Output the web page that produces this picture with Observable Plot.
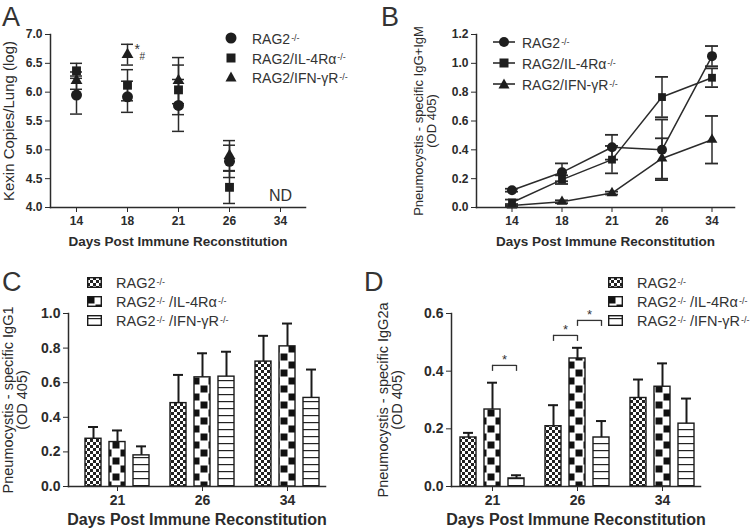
<!DOCTYPE html>
<html><head><meta charset="utf-8">
<script src="https://cdn.jsdelivr.net/npm/d3@7"></script>
<script src="https://cdn.jsdelivr.net/npm/@observablehq/plot@0.6"></script>
<style>
body{margin:0;background:#fff;font-family:"Liberation Sans",Arial,sans-serif;}
#fig{position:relative;width:750px;height:530px;overflow:hidden;color:#2b2b2b;background:#fff}
.panel{position:absolute;width:375px;height:265px}
.panel svg{overflow:visible}
.letter{position:absolute;font-size:27px;color:#333;line-height:1}
.leg{position:absolute;white-space:nowrap;display:flex;align-items:center;color:#333;line-height:1}
.leg sup{font-size:9px;position:relative;top:-1px;margin-left:1px}
svg g[aria-label="x-axis tick label"], svg g[aria-label="y-axis tick label"]{font-weight:bold}
svg g[aria-label="x-axis label"]{font-weight:bold}
.pa g[aria-label="x-axis label"], .pb g[aria-label="x-axis label"]{font-size:13.5px}
.pa g[aria-label="y-axis label"]{font-size:15px}
.pb g[aria-label="y-axis label"]{font-size:13px}
.pc g[aria-label="y-axis label"], .pd g[aria-label="y-axis label"]{font-size:14.5px}
.pc g[aria-label="x-axis label"], .pd g[aria-label="x-axis label"]{font-size:16px}
.pc g[aria-label="x-axis tick label"], .pd g[aria-label="x-axis tick label"],
.pc g[aria-label="y-axis tick label"], .pd g[aria-label="y-axis tick label"]{font-size:14px}
</style>
</head><body>
<svg width="0" height="0" style="position:absolute">
  <defs>
    <pattern id="pFine" patternUnits="userSpaceOnUse" width="6" height="6">
      <rect width="6" height="6" fill="#fff"/>
      <rect width="3" height="3" fill="#222"/>
      <rect x="3" y="3" width="3" height="3" fill="#222"/>
    </pattern>
    <pattern id="pBig" patternUnits="userSpaceOnUse" width="16" height="16">
      <rect width="16" height="16" fill="#fff"/>
      <rect x="0.5" y="0.5" width="7" height="7" fill="#111"/>
      <rect x="8.5" y="8.5" width="7" height="7" fill="#111"/>
    </pattern>
    <pattern id="pLines" patternUnits="userSpaceOnUse" width="8" height="7">
      <rect width="8" height="7" fill="#fff"/>
      <rect y="3" width="8" height="1.2" fill="#222"/>
    </pattern>
  </defs>
</svg>
<div id="fig"></div>
<script>
// ---------- data ----------
const days = [14, 18, 21, 26, 34];
const kexinDays = [14, 18, 21, 26];
const seriesNames = ["RAG2-/-", "RAG2/IL-4Rα-/-", "RAG2/IFN-γR-/-"];

// Panel A: Kexin copies/lung (log)
const kexinRag2 = [5.95, 5.92, 5.77, 4.80];
const kexinRag2Err = [0.33, 0.27, 0.45, 0.28];
const kexinIl4 = [6.37, 6.12, 6.04, 4.35];
const kexinIl4Err = [0.13, 0.27, 0.43, 0.28];
const kexinIfn = [6.20, 6.65, 6.20, 4.90];
const kexinIfnErr = [0.15, 0.18, 0.40, 0.26];

// Panel B: IgG+IgM (OD 405)
const igmRag2 = [0.12, 0.244, 0.418, 0.40, 1.05];
const igmRag2Err = [0.01, 0.062, 0.086, 0.21, 0.07];
const igmIl4 = [0.035, 0.193, 0.332, 0.766, 0.90];
const igmIl4Err = [0.02, 0.03, 0.095, 0.14, 0.065];
const igmIfn = [0.014, 0.04, 0.10, 0.34, 0.47];
const igmIfnErr = [0.01, 0.01, 0.01, 0.14, 0.165];

// Panels C & D: bars
const barDays = [21, 26, 34];
const igg1Rag2 = [0.276, 0.482, 0.722];
const igg1Rag2Err = [0.068, 0.163, 0.149];
const igg1Il4 = [0.257, 0.631, 0.81];
const igg1Il4Err = [0.067, 0.139, 0.132];
const igg1Ifn = [0.18, 0.635, 0.512];
const igg1IfnErr = [0.052, 0.144, 0.164];

const igg2aRag2 = [0.17, 0.209, 0.307];
const igg2aRag2Err = [0.016, 0.073, 0.064];
const igg2aIl4 = [0.267, 0.444, 0.346];
const igg2aIl4Err = [0.093, 0.037, 0.081];
const igg2aIfn = [0.028, 0.17, 0.218];
const igg2aIfnErr = [0.011, 0.057, 0.087];

// significance brackets in D (series index from -> to)
const bracketDays = [21, 26, 26];
const bracketFrom = [1, 0, 1];
const bracketTo = [2, 1, 2];
const bracketY = [0.42, 0.524, 0.576];

const annotA = [{day: 18, y: 6.83}];
const ndA = [{day: 34, y: 4.2}];

// ---------- helpers ----------
const ink = "#2b2b2b";
const font = "'Liberation Sans', Arial, sans-serif";
const W = 375, H = 265;
function rows(xs, vals, errs, series) {
  return xs.map((d, j) => ({day: d, value: vals[j], err: errs[j], series}));
}
// band scale settings so that band i is centred at c0 + i*step with a given width
function bandFit(r0, r1, n, c0, step, bw) {
  const pi = 1 - bw / step;
  const po = ((r1 - r0) / step - n + pi) / 2;
  const left = (r1 - r0) - step * (n - pi);
  const align = left > 0 ? (c0 - bw / 2 - r0) / left : 0.5;
  return {paddingInner: pi, paddingOuter: po, align};
}
const fig = document.getElementById("fig");
function place(node, left, top) {
  const div = document.createElement("div");
  div.className = "panel";
  div.style.left = left + "px"; div.style.top = top + "px";
  div.appendChild(node);
  fig.appendChild(div);
}
function html(str, left, top, cls, extra) {
  const d = document.createElement("div");
  d.className = cls; d.style.left = left + "px"; d.style.top = top + "px";
  if (extra) Object.assign(d.style, extra);
  d.innerHTML = str; fig.appendChild(d);
}
const baseStyle = {fontFamily: font, fontSize: "12px", color: ink, background: "none", overflow: "visible"};
const axisLines = () => [
  Plot.frame({anchor: "left", stroke: ink, strokeWidth: 1.5}),
  Plot.frame({anchor: "bottom", stroke: ink, strokeWidth: 1.5})
];

// ---------- Panel A ----------
const A = [
  rows(kexinDays, kexinRag2, kexinRag2Err, seriesNames[0]),
  rows(kexinDays, kexinIl4, kexinIl4Err, seriesNames[1]),
  rows(kexinDays, kexinIfn, kexinIfnErr, seriesNames[2])
];
const symA = [["circle", 5.5], ["square", 5.0], ["triangle", 4.4]];
const plotA = Plot.plot({
  className: "pa",
  width: W, height: H, marginLeft: 50, marginRight: 70, marginTop: 34, marginBottom: 58,
  style: baseStyle,
  x: {type: "band", domain: days, ...bandFit(50, 305, 5, 74, 51.75, 12), label: "Days Post Immune Reconstitution",
      labelAnchor: "center", labelOffset: 38, labelArrow: "none", tickSize: 5, tickPadding: 4},
  y: {domain: [4, 7], ticks: 6, tickFormat: d3.format(".1f"), label: "Kexin Copies/Lung (log)",
      labelAnchor: "center", labelOffset: 47, labelArrow: "none", tickSize: 5, tickPadding: 3},
  marks: [
    ...A.flatMap(r => [
      Plot.ruleX(r, {x: "day", y1: d => d.value - d.err, y2: d => d.value + d.err, stroke: ink, strokeWidth: 1.5}),
      Plot.tickY(r, {x: "day", y: d => d.value - d.err, stroke: ink, strokeWidth: 1.5}),
      Plot.tickY(r, {x: "day", y: d => d.value + d.err, stroke: ink, strokeWidth: 1.5})
    ]),
    ...A.map((r, i) => Plot.dot(r, {x: "day", y: "value", symbol: symA[i][0], r: symA[i][1], fill: "#1e1e1e", stroke: "none"})),
    Plot.text(annotA, {x: "day", y: "y", text: () => "*", dx: 7, dy: 5, fontSize: 14, textAnchor: "start", fill: "#333"}),
    Plot.text(annotA, {x: "day", y: "y", text: () => "#", dx: 12, dy: 12, fontSize: 10, textAnchor: "start", fill: "#333"}),
    Plot.text(ndA, {x: "day", y: "y", text: () => "ND", fontSize: 16, fill: "#333"}),
    ...axisLines()
  ]
});
place(plotA, 0, 0);

// ---------- Panel B ----------
const B = [
  rows(days, igmRag2, igmRag2Err, seriesNames[0]),
  rows(days, igmIl4, igmIl4Err, seriesNames[1]),
  rows(days, igmIfn, igmIfnErr, seriesNames[2])
];
const symB = [["circle", 5.0], ["square", 4.4], ["triangle", 4.0]];
const plotB = Plot.plot({
  className: "pb",
  width: W, height: H, marginLeft: 101, marginRight: 16, marginTop: 34, marginBottom: 58,
  style: baseStyle,
  x: {type: "band", domain: days, ...bandFit(101, 359, 5, 134, 50.75, 13), label: "Days Post Immune Reconstitution",
      labelAnchor: "center", labelOffset: 38, labelArrow: "none", tickSize: 5, tickPadding: 4},
  y: {domain: [0, 1.2], ticks: 6, tickFormat: d3.format(".1f"),
      label: "Pneumocystis - specific IgG+IgM\n(OD 405)",
      labelAnchor: "center", labelOffset: 63, labelArrow: "none", tickSize: 5, tickPadding: 3},
  marks: [
    ...B.map(r => Plot.line(r, {x: "day", y: "value", stroke: ink, strokeWidth: 1.5})),
    ...B.flatMap(r => [
      Plot.ruleX(r, {x: "day", y1: d => d.value - d.err, y2: d => d.value + d.err, stroke: ink, strokeWidth: 1.5}),
      Plot.tickY(r, {x: "day", y: d => d.value - d.err, stroke: ink, strokeWidth: 1.8}),
      Plot.tickY(r, {x: "day", y: d => d.value + d.err, stroke: ink, strokeWidth: 1.8})
    ]),
    ...B.map((r, i) => Plot.dot(r, {x: "day", y: "value", symbol: symB[i][0], r: symB[i][1], fill: "#1e1e1e", stroke: "none"})),
    ...axisLines()
  ]
});
place(plotB, 375, 0);

// ---------- Bar panels ----------
const fills = ["url(#pFine)", "url(#pBig)", "url(#pLines)"];
function barPanel({cls, vals, errs, yDomain, ticks, label, ml, mr, band, brackets}) {
  const range = [ml, W - mr];
  const bw = d3.scaleBand(barDays, range).paddingInner(band.paddingInner)
    .paddingOuter(band.paddingOuter).align(band.align).bandwidth();
  const bar = bw * 0.25, s = bw * 0.375;
  const R = vals.map((v, i) => rows(barDays, v, errs[i], seriesNames[i]));
  const marks = [];
  R.forEach((r, i) => {
    marks.push(Plot.barY(r, {x: "day", y: "value", fill: fills[i], stroke: "#1a1a1a", strokeWidth: 1.4,
      insetLeft: i * s, insetRight: (2 - i) * s}));
    marks.push(Plot.ruleX(r, {x: "day", y1: "value", y2: d => d.value + d.err, dx: (i - 1) * s, stroke: "#1a1a1a", strokeWidth: 2}));
    marks.push(Plot.tickY(r, {x: "day", y: d => d.value + d.err, insetLeft: i * s + bar / 2 - 5,
      insetRight: (2 - i) * s + bar / 2 - 5, stroke: "#1a1a1a", strokeWidth: 2}));
  });
  if (brackets) {
    brackets.forEach(b => {
      const d = [b];
      marks.push(Plot.tickY(d, {x: "day", y: "y", insetLeft: b.from * s + bar / 2, insetRight: (2 - b.to) * s + bar / 2, stroke: "#333", strokeWidth: 1.3}));
      marks.push(Plot.ruleX(d, {x: "day", y1: "y", y2: "y", dx: (b.from - 1) * s, insetBottom: -6, stroke: "#333", strokeWidth: 1.3}));
      marks.push(Plot.ruleX(d, {x: "day", y1: "y", y2: "y", dx: (b.to - 1) * s, insetBottom: -6, stroke: "#333", strokeWidth: 1.3}));
      marks.push(Plot.text(d, {x: "day", y: "y", text: () => "*", dx: ((b.from + b.to) / 2 - 1) * s, dy: -6, fontSize: 13, fill: "#333"}));
    });
  }
  marks.push(...axisLines());
  return Plot.plot({
    className: cls,
    width: W, height: H, marginLeft: ml, marginRight: mr, marginTop: 48, marginBottom: 44,
    style: {...baseStyle, fontSize: "13.5px"},
    x: {type: "band", domain: barDays, ...band, label: "Days Post Immune Reconstitution",
        labelAnchor: "center", labelOffset: 38, labelArrow: "none", tickSize: 5, tickPadding: 4},
    y: {domain: yDomain, ticks, tickFormat: d3.format(".1f"), label,
        labelAnchor: "center", labelOffset: ml - 2, labelArrow: "none", tickSize: 5, tickPadding: 3},
    marks
  });
}
const plotC = barPanel({
  cls: "pc",
  vals: [igg1Rag2, igg1Il4, igg1Ifn], errs: [igg1Rag2Err, igg1Il4Err, igg1IfnErr],
  yDomain: [0, 1.0], ticks: 5, label: "Pneumocystis - specific IgG1\n(OD 405)",
  ml: 68, mr: 50, band: bandFit(68, 325, 3, 117, 85, 64)
});
place(plotC, 0, 265);
const plotD = barPanel({
  cls: "pd",
  vals: [igg2aRag2, igg2aIl4, igg2aIfn], errs: [igg2aRag2Err, igg2aIl4Err, igg2aIfnErr],
  yDomain: [0, 0.6], ticks: 3, label: "Pneumocystis - specific IgG2a\n(OD 405)",
  ml: 76, mr: 50, band: bandFit(76, 325, 3, 117, 85, 64),
  brackets: bracketDays.map((d, k) => ({day: d, from: bracketFrom[k], to: bracketTo[k], y: bracketY[k]}))
});
place(plotD, 375, 265);

// ---------- panel letters ----------
html("A", 2, 4, "letter");
html("B", 381, 4, "letter");
html("C", 2, 269, "letter");
html("D", 364, 269, "letter");

// ---------- legends ----------
const legLabels = [
  "RAG2<sup>-/-</sup>",
  "RAG2/IL-4Rα<sup>-/-</sup>",
  "RAG2/IFN-γR<sup>-/-</sup>"
];
const legLabelsBar = [
  "RAG2<sup>-/-</sup>",
  "RAG2<sup>-/-</sup>&nbsp;/IL-4Rα<sup>-/-</sup>",
  "RAG2<sup>-/-</sup>&nbsp;/IFN-γR<sup>-/-</sup>"
];
function symSvg(kind, withLine) {
  const w = withLine ? 22 : 12, c = w / 2;
  let shape;
  if (kind === "circle") shape = `<circle cx="${c}" cy="6" r="${withLine ? 5 : 5.5}" fill="#1e1e1e"/>`;
  else if (kind === "square") shape = `<rect x="${c - 4.5}" y="1.5" width="9" height="9" fill="#1e1e1e"/>`;
  else shape = `<path d="M${c} 0.5 L${c + 5.5} 10.5 L${c - 5.5} 10.5Z" fill="#1e1e1e"/>`;
  const line = withLine ? `<line x1="0" x2="${w}" y1="6" y2="6" stroke="#2b2b2b" stroke-width="1.6"/>` : "";
  return `<svg width="${w}" height="12" style="overflow:visible">${line}${shape}</svg>`;
}
const kinds = ["circle", "square", "triangle"];
kinds.forEach((k, i) => {
  html(`<span style="display:inline-block;width:27px">${symSvg(k, false)}</span>${legLabels[i]}`,
    225, 32 + i * 19.5, "leg", {fontSize: "14px"});
  html(`<span style="display:inline-block;width:29px">${symSvg(k, true)}</span>${legLabels[i]}`,
    493, 36 + i * 21, "leg", {fontSize: "14px"});
});
function swatch(i) {
  return `<svg width="15" height="11" style="overflow:visible"><rect x="0.7" y="0.7" width="13.6" height="9.6" fill="${fills[i]}" stroke="#1a1a1a" stroke-width="1.4"/></svg>`;
}
legLabelsBar.forEach((t, i) => {
  html(`<span style="display:inline-block;width:29px">${swatch(i)}</span>${t}`, 87, 276 + i * 19, "leg", {fontSize: "14.5px"});
  html(`<span style="display:inline-block;width:29px">${swatch(i)}</span>${t}`, 608, 276 + i * 19, "leg", {fontSize: "14.5px"});
});
</script>
</body></html>
